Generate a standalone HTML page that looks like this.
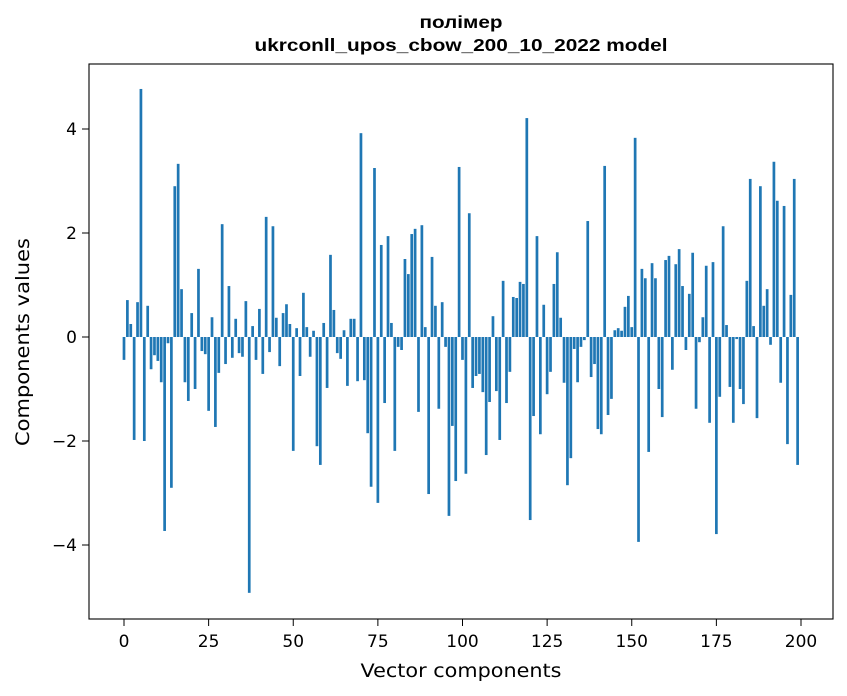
<!DOCTYPE html>
<html><head><meta charset="utf-8"><style>
body{margin:0;background:#fff;}
svg{display:block;font-family:"DejaVu Sans","Liberation Sans",sans-serif;}
</style></head><body>
<svg id="chart" width="847" height="696">
<rect width="847" height="696" fill="#fff"/>
<text x="461" y="28" text-anchor="middle" font-size="17.5" font-weight="bold" font-family="Liberation Sans, sans-serif" textLength="83" lengthAdjust="spacingAndGlyphs">полімер</text>
<text x="461" y="51" text-anchor="middle" font-size="17.5" font-weight="bold" font-family="Liberation Sans, sans-serif" textLength="413" lengthAdjust="spacingAndGlyphs">ukrconll_upos_cbow_200_10_2022 model</text>
<g id="bars"></g>
<g id="xticks"></g>
<g id="yticks"></g>
<rect x="89" y="64" width="744" height="555" fill="none" stroke="#000" stroke-width="1.1"/>
<text x="461" y="677" text-anchor="middle" font-size="19" textLength="201" lengthAdjust="spacingAndGlyphs">Vector components</text>
<text x="0" y="0" transform="translate(29,342) rotate(-90)" text-anchor="middle" font-size="19" textLength="208" lengthAdjust="spacingAndGlyphs">Components values</text>
</svg>
<script>
const values = [-0.44,0.71,0.25,-1.98,0.67,4.77,-2.0,0.6,-0.62,-0.35,-0.46,-0.87,-3.73,-0.12,-2.9,2.9,3.33,0.92,-0.87,-1.23,0.46,-1.0,1.31,-0.27,-0.33,-1.42,0.38,-1.73,-0.69,2.17,-0.52,0.98,-0.4,0.35,-0.31,-0.38,0.69,-4.92,0.21,-0.44,0.54,-0.71,2.31,-0.29,2.13,0.37,-0.56,0.46,0.63,0.25,-2.19,0.17,-0.75,0.85,0.19,-0.38,0.12,-2.1,-2.46,0.27,-0.98,1.58,0.52,-0.31,-0.42,0.13,-0.94,0.35,0.35,-0.85,3.92,-0.83,-1.85,-2.88,3.25,-3.19,1.77,-1.27,1.94,0.27,-2.19,-0.19,-0.25,1.5,1.21,1.98,2.08,-1.44,2.15,0.19,-3.02,1.54,0.6,-1.38,0.67,-0.19,-3.44,-1.71,-2.77,3.27,-0.44,-2.63,2.38,-0.98,-0.75,-0.71,-1.06,-2.27,-1.25,0.4,-1.04,-1.98,1.08,-1.27,-0.67,0.77,0.75,1.06,1.02,4.21,-3.52,-1.52,1.94,-1.87,0.62,-1.1,-0.67,1.02,1.63,0.37,-0.88,-2.85,-2.33,-0.23,-0.87,-0.19,-0.06,2.23,-0.77,-0.52,-1.77,-1.87,3.29,-1.5,-1.19,0.13,0.17,0.12,0.58,0.79,0.19,3.83,-3.94,1.31,1.13,-2.21,1.42,1.13,-1.0,-1.54,1.48,1.56,-0.63,1.4,1.69,0.98,-0.25,0.83,1.62,-1.38,-0.1,0.38,1.37,-1.65,1.44,-3.79,-1.15,2.13,0.23,-0.96,-1.65,-0.04,-1.0,-1.29,1.08,3.04,0.21,-1.56,2.9,0.6,0.92,-0.15,3.37,2.62,-0.88,2.52,-2.06,0.81,3.04,-2.46];
const xTicks = [0,25,50,75,100,125,150,175,200];
const yTicks = [-4,-2,0,2,4];
const NS = "http://www.w3.org/2000/svg";
function xs(v){return 124 + v*3.385;}
function ys(v){return 337 - v*52;}
const barsG = document.getElementById('bars');
values.forEach((v,i)=>{
  const r = document.createElementNS(NS,'rect');
  
  
  const w = 0.8*3.385;
  r.setAttribute('x', xs(i)-w/2);
  r.setAttribute('y', Math.min(ys(v), ys(0)));
  r.setAttribute('width', w);
  r.setAttribute('height', Math.abs(ys(v)-ys(0)));
  r.setAttribute('fill', '#1f77b4');
  barsG.appendChild(r);
});
const xg = document.getElementById('xticks');
xTicks.forEach(t=>{
  const l = document.createElementNS(NS,'line');
  
  
  l.setAttribute('x1', xs(t)); l.setAttribute('x2', xs(t));
  l.setAttribute('y1', 619); l.setAttribute('y2', 626);
  l.setAttribute('stroke', '#000');
  xg.appendChild(l);
  const tx = document.createElementNS(NS,'text');
  
  
  tx.setAttribute('x', xs(t)); tx.setAttribute('y', 647);
  tx.setAttribute('text-anchor', 'middle'); tx.setAttribute('font-size', '17');
  tx.textContent = t;
  xg.appendChild(tx);
});
const yg = document.getElementById('yticks');
yTicks.forEach(t=>{
  const l = document.createElementNS(NS,'line');
  
  
  l.setAttribute('x1', 82); l.setAttribute('x2', 89);
  l.setAttribute('y1', ys(t)); l.setAttribute('y2', ys(t));
  l.setAttribute('stroke', '#000');
  yg.appendChild(l);
  const tx = document.createElementNS(NS,'text');
  
  
  tx.setAttribute('x', 77); tx.setAttribute('y', ys(t)+6);
  tx.setAttribute('text-anchor', 'end'); tx.setAttribute('font-size', '17');
  tx.textContent = t < 0 ? '\u2212' + Math.abs(t) : t;
  yg.appendChild(tx);
});
</script>
</body></html>
